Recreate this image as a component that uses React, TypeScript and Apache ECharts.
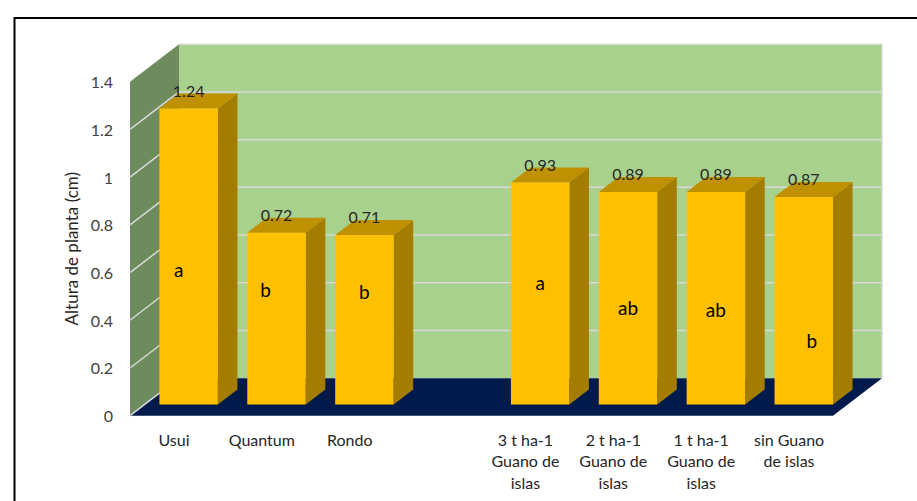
import React, { useEffect, useRef } from "react";
import * as echarts from "echarts";

const categories = [
  "Usui",
  "Quantum",
  "Rondo",
  "",
  "3 t ha-1\nGuano de\nislas",
  "2 t ha-1\nGuano de\nislas",
  "1 t ha-1\nGuano de\nislas",
  "sin Guano\nde islas",
];
const heights: (number | null)[] = [1.24, 0.72, 0.71, null, 0.93, 0.89, 0.89, 0.87];
const letters: (string | null)[] = ["a", "b", "b", null, "a", "ab", "ab", "b"];
// where each significance letter sits, in axis units
const letterAt: (number | null)[] = [0.567, 0.483, 0.472, null, 0.511, 0.405, 0.399, 0.267];
const letterNudge: number[] = [-10, -11, 0, 0, 0, 0, 0, 8];
const yTicks = [0, 0.2, 0.4, 0.6, 0.8, 1, 1.2, 1.4];
const yTitle = "Altura de planta (cm)";

const FONT = "Lato, 'Open Sans', sans-serif";
const DX = 49;
const DY = -37.5;
const F0 = 0.3;
const F1 = 0.7;

export default function App() {
  const ref = useRef<HTMLDivElement>(null);
  useEffect(() => {
    if (!ref.current) return;
    const chart = echarts.init(ref.current, null, { renderer: "svg" });

    const wallRender = (params: any, api: any) => {
      const cs = params.coordSys;
      const gx = cs.x, gy = cs.y, gw = cs.width, gh = cs.height;
      const gb = gy + gh;
      const children: any[] = [];
      children.push({
        type: "polygon",
        shape: { points: [[gx, gy], [gx + DX, gy + DY], [gx + DX, gb + DY], [gx, gb]] },
        style: { fill: "#6e8b5d" },
      });
      children.push({
        type: "rect",
        shape: { x: gx + DX, y: gy + DY, width: gw, height: gh },
        style: { fill: "#a9d18e" },
      });
      yTicks.forEach((t) => {
        const p = api.coord([0, t]);
        if (t > 0) {
          children.push({
            type: "line",
            shape: { x1: gx + DX, y1: p[1] + DY, x2: gx + DX + gw, y2: p[1] + DY },
            style: { stroke: "#d9d9d9", lineWidth: 1.5 },
          });
        }
      });
      children.push({
        type: "line",
        shape: { x1: gx + DX + gw, y1: gy + DY, x2: gx + DX + gw, y2: gb + DY },
        style: { stroke: "#d9d9d9", lineWidth: 1.5 },
      });
      children.push({
        type: "polygon",
        shape: { points: [[gx, gb], [gx + gw, gb], [gx + gw + DX, gb + DY], [gx + DX, gb + DY]] },
        style: { fill: "#001a4b" },
      });
      yTicks.forEach((t, k) => {
        if (k === yTicks.length - 1) return;
        const p = api.coord([0, t]);
        children.push({
          type: "line",
          shape: { x1: gx, y1: p[1], x2: gx + DX, y2: p[1] + DY },
          style: { stroke: "#d9d9d9", lineWidth: 1.5 },
        });
      });
      return { type: "group", children };
    };

    const barRender = (params: any, api: any) => {
      const i = api.value(0);
      const v = api.value(1);
      if (v == null || isNaN(v)) return null;
      const base = api.coord([i, 0]);
      const top = api.coord([i, v]);
      const bw = api.size([1, 0])[0] * 0.665;
      const x0 = base[0] - bw / 2 + F0 * DX;
      const yb = base[1] + F0 * DY;
      const yt = top[1] + F0 * DY;
      const ddx = (F1 - F0) * DX;
      const ddy = (F1 - F0) * DY;
      const children: any[] = [
        {
          type: "polygon",
          shape: { points: [[x0 + bw, yt], [x0 + bw + ddx, yt + ddy], [x0 + bw + ddx, yb + ddy], [x0 + bw, yb]] },
          style: { fill: "#a37c00" },
        },
        {
          type: "polygon",
          shape: { points: [[x0, yt], [x0 + bw, yt], [x0 + bw + ddx, yt + ddy], [x0 + ddx, yt + ddy]] },
          style: { fill: "#bf9000" },
        },
        {
          type: "rect",
          shape: { x: x0, y: yt, width: bw, height: yb - yt },
          style: { fill: "#ffc000" },
        },
        {
          type: "text",
          x: x0 + bw / 2,
          y: yt - 18.5,
          style: {
            text: v.toFixed(2),
            font: `16px ${FONT}`,
            fill: "#262626",
            align: "center",
            verticalAlign: "middle",
          },
        },
      ];
      const idx = params.dataIndex;
      const la = letterAt[idx];
      const lt = letters[idx];
      if (la != null && lt) {
        const lp = api.coord([i, la]);
        children.push({
          type: "text",
          x: x0 + bw / 2 + letterNudge[idx],
          y: lp[1] + F0 * DY,
          style: {
            text: lt,
            font: `19px ${FONT}`,
            fill: "#000000",
            align: "center",
            verticalAlign: "middle",
          },
        });
      }
      return { type: "group", children };
    };

    chart.setOption({
      animation: false,
      backgroundColor: "#ffffff",
      grid: { left: 130, top: 81.7, right: 84, bottom: 85.3, containLabel: false },
      xAxis: {
        type: "category",
        data: categories,
        axisLine: { show: false },
        axisTick: { show: false },
        axisLabel: {
          interval: 0,
          margin: 12.5,
          color: "#262626",
          fontFamily: FONT,
          fontSize: 16,
          lineHeight: 21.7,
        },
      },
      yAxis: {
        type: "value",
        min: 0,
        max: 1.4,
        interval: 0.2,
        name: yTitle,
        nameLocation: "middle",
        nameRotate: 90,
        nameGap: 49,
        nameTextStyle: { color: "#262626", fontFamily: FONT, fontSize: 17 },
        axisLine: { show: false },
        axisTick: { show: false },
        splitLine: { show: false },
        axisLabel: { margin: 17, color: "#404040", fontFamily: FONT, fontSize: 16 },
      },
      graphic: [
        {
          type: "rect",
          left: 12,
          top: 15.5,
          shape: { x: 0, y: 0, width: 1000, height: 1000 },
          style: { fill: "none", stroke: "#000000", lineWidth: 2 },
          z: 10,
        },
      ],
      series: [
        {
          type: "custom",
          renderItem: wallRender,
          data: [[0, 0]],
          encode: { x: 0, y: 1 },
          z: 1,
          silent: true,
        },
        {
          type: "custom",
          renderItem: barRender,
          data: heights.map((h, i) => [i, h == null ? "-" : h]),
          encode: { x: 0, y: 1 },
          z: 2,
        },
      ],
    });
    return () => chart.dispose();
  }, []);
  return (
    <div
      ref={ref}
      style={{ position: "fixed", left: 0, top: 0, width: 917, height: 501 }}
    />
  );
}
